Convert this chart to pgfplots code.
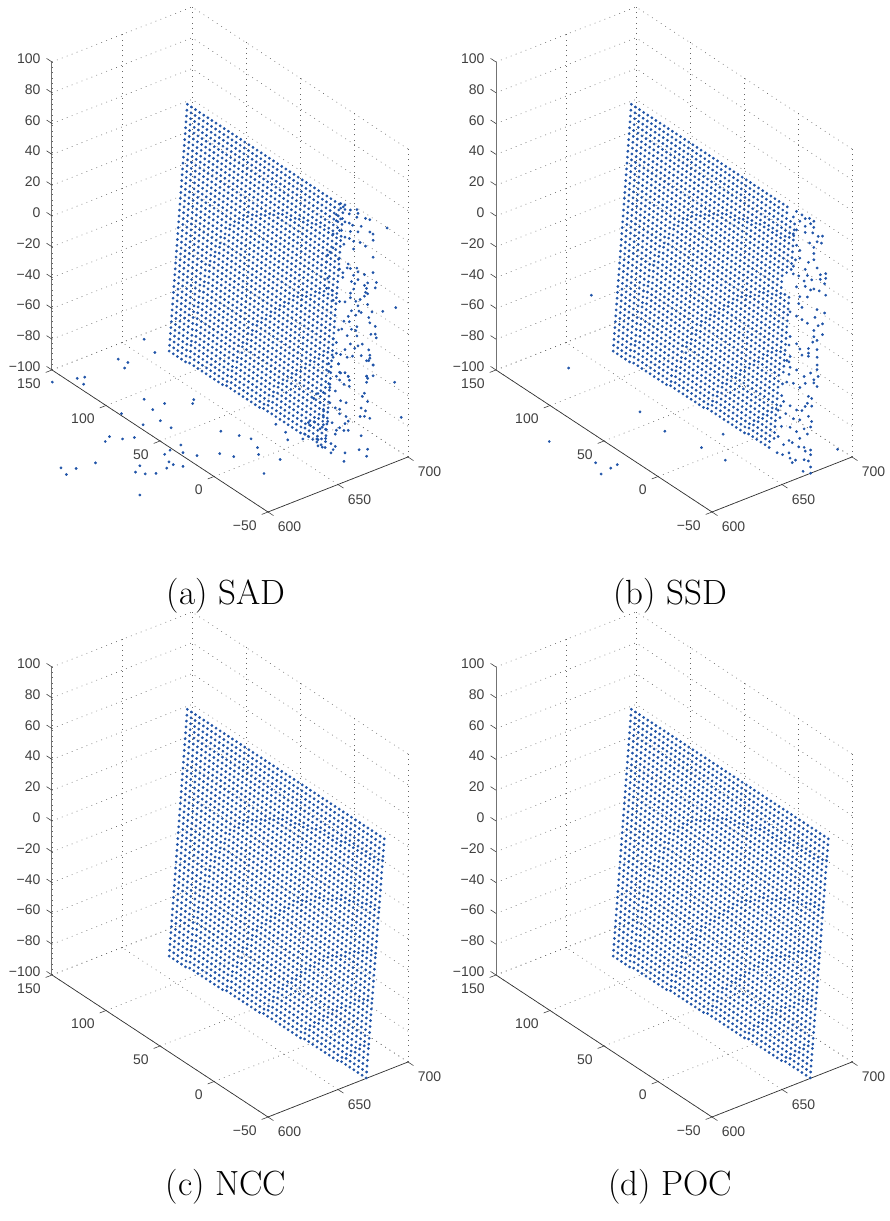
\documentclass[border=0pt]{standalone}
\usepackage{pgfplots}
\usepackage{pgfplotstable}
\pgfplotsset{compat=1.18}
\usepackage{fontspec}
\setmainfont{Liberation Sans}
\newfontfamily\capfont{Latin Modern Roman}
\definecolor{dotblue}{RGB}{32,84,168}
\pgfplotsset{panel/.style={
  x={(1.40pt,0.55pt)},y={(-1.08pt,0.71pt)},z={(0pt,1.54pt)},
  xmin=600,xmax=700,ymin=-50,ymax=150,zmin=-100,zmax=100,
  xtick={600,650,700},ytick={-50,0,50,100,150},ztick={-100,-80,-60,-40,-20,0,20,40,60,80,100},
  xticklabels={600,650,700},yticklabels={−50,0,50,100,150},
  zticklabels={−100,−80,−60,−40,−20,0,20,40,60,80,100},
  clip=false,grid=major,
  grid style={draw=black!60,line width=0.6pt,dash pattern=on 0.8pt off 4.5pt},
  axis line style={draw=none},
  tick align=outside,major tick length=6pt,
  tick style={draw=none},
  tick label style={font=\fontsize{14}{14}\selectfont,text=black!75},
  /pgf/number format/assume math mode=true,
  xticklabel style={anchor=center,xshift=16.5pt,yshift=-11.5pt},
  yticklabel style={anchor=east,xshift=-2.3pt,yshift=-11pt},
  zticklabel style={anchor=east,xshift=-3pt,yshift=0pt},
}}
\tikzset{tk/.style={draw=black!75,line width=0.6pt},dots/.style={only marks,color=dotblue,mark=*,mark size=1.2pt,mark options={draw=dotblue,fill=dotblue,line width=0.4pt}}}
\newcommand{\frameaxes}{%
 \addplot3[no marks,draw=black!80,line width=0.7pt] coordinates {(600,150,-100)(600,-50,-100)(700,-50,-100)};
 \addplot3[no marks,draw=black!55,line width=1pt] coordinates {(600,150,-100)(600,150,100)};
 \draw[tk] (axis cs:600,-50,-100)--(axis cs:600,-55,-100);
 \draw[tk] (axis cs:650,-50,-100)--(axis cs:650,-55,-100);
 \draw[tk] (axis cs:700,-50,-100)--(axis cs:700,-55,-100);
 \draw[tk] (axis cs:600,-50,-100)--(axis cs:595.5,-50,-100);
 \draw[tk] (axis cs:600,0,-100)--(axis cs:595.5,0,-100);
 \draw[tk] (axis cs:600,50,-100)--(axis cs:595.5,50,-100);
 \draw[tk] (axis cs:600,100,-100)--(axis cs:595.5,100,-100);
 \draw[tk] (axis cs:600,150,-100)--(axis cs:595.5,150,-100);
 \draw[tk] (axis cs:600,150,-100)--(axis cs:600,155,-100);
 \draw[tk] (axis cs:600,150,-80)--(axis cs:600,155,-80);
 \draw[tk] (axis cs:600,150,-60)--(axis cs:600,155,-60);
 \draw[tk] (axis cs:600,150,-40)--(axis cs:600,155,-40);
 \draw[tk] (axis cs:600,150,-20)--(axis cs:600,155,-20);
 \draw[tk] (axis cs:600,150,0)--(axis cs:600,155,0);
 \draw[tk] (axis cs:600,150,20)--(axis cs:600,155,20);
 \draw[tk] (axis cs:600,150,40)--(axis cs:600,155,40);
 \draw[tk] (axis cs:600,150,60)--(axis cs:600,155,60);
 \draw[tk] (axis cs:600,150,80)--(axis cs:600,155,80);
 \draw[tk] (axis cs:600,150,100)--(axis cs:600,155,100);
}
\pgfplotstableread{
682 131 52
682 127.2 52
682 123.4 52
682 119.6 52
682 115.8 52
682 112 52
682 108.2 52
682 104.4 52
682 100.6 52
682 96.8 52
682 93 52
682 89.2 52
682 85.4 52
682 81.6 52
682 77.8 52
682 74 52
682 70.2 52
682 66.4 52
682 62.6 52
682 58.8 52
682 55 52
682 51.2 52
682 47.4 52
682 43.6 52
682 39.8 52
682 36 52
682 32.2 52
682 28.4 52
682 24.6 52
682 20.8 52
682 17 52
682 13.2 52
682 9.4 52
682 5.6 52
682 1.8 52
682 -2 52
682 131.4 48
682 127.6 48
682 123.8 48
682 120 48
682 116.2 48
682 112.4 48
682 108.6 48
682 104.8 48
682 101 48
682 97.2 48
682 93.4 48
682 89.6 48
682 85.8 48
682 82 48
682 78.2 48
682 74.4 48
682 70.6 48
682 66.8 48
682 63 48
682 59.2 48
682 55.4 48
682 51.6 48
682 47.8 48
682 44 48
682 40.2 48
682 36.4 48
682 32.6 48
682 28.8 48
682 25 48
682 21.2 48
682 17.4 48
682 13.6 48
682 9.8 48
682 6 48
682 2.2 48
682 -1.6 48
682 131.8 44
682 128 44
682 124.2 44
682 120.4 44
682 116.6 44
682 112.8 44
682 109 44
682 105.2 44
682 101.4 44
682 97.6 44
682 93.8 44
682 90 44
682 86.2 44
682 82.4 44
682 78.6 44
682 74.8 44
682 71 44
682 67.2 44
682 63.4 44
682 59.6 44
682 55.8 44
682 52 44
682 48.2 44
682 44.4 44
682 40.6 44
682 36.8 44
682 33 44
682 29.2 44
682 25.4 44
682 21.6 44
682 17.8 44
682 14 44
682 10.2 44
682 6.4 44
682 2.6 44
682 -1.2 44
682 132.2 40
682 128.4 40
682 124.6 40
682 120.8 40
682 117 40
682 113.2 40
682 109.4 40
682 105.6 40
682 101.8 40
682 98 40
682 94.2 40
682 90.4 40
682 86.6 40
682 82.8 40
682 79 40
682 75.2 40
682 71.4 40
682 67.6 40
682 63.8 40
682 60 40
682 56.2 40
682 52.4 40
682 48.6 40
682 44.8 40
682 41 40
682 37.2 40
682 33.4 40
682 29.6 40
682 25.8 40
682 22 40
682 18.2 40
682 14.4 40
682 10.6 40
682 6.8 40
682 3 40
682 -0.8 40
682 132.6 36
682 128.8 36
682 125 36
682 121.2 36
682 117.4 36
682 113.6 36
682 109.8 36
682 106 36
682 102.2 36
682 98.4 36
682 94.6 36
682 90.8 36
682 87 36
682 83.2 36
682 79.4 36
682 75.6 36
682 71.8 36
682 68 36
682 64.2 36
682 60.4 36
682 56.6 36
682 52.8 36
682 49 36
682 45.2 36
682 41.4 36
682 37.6 36
682 33.8 36
682 30 36
682 26.2 36
682 22.4 36
682 18.6 36
682 14.8 36
682 11 36
682 7.2 36
682 3.4 36
682 -0.4 36
682 133 32
682 129.2 32
682 125.4 32
682 121.6 32
682 117.8 32
682 114 32
682 110.2 32
682 106.4 32
682 102.6 32
682 98.8 32
682 95 32
682 91.2 32
682 87.4 32
682 83.6 32
682 79.8 32
682 76 32
682 72.2 32
682 68.4 32
682 64.6 32
682 60.8 32
682 57 32
682 53.2 32
682 49.4 32
682 45.6 32
682 41.8 32
682 38 32
682 34.2 32
682 30.4 32
682 26.6 32
682 22.8 32
682 19 32
682 15.2 32
682 11.4 32
682 7.6 32
682 3.8 32
682 0 32
682 133.4 28
682 129.6 28
682 125.8 28
682 122 28
682 118.2 28
682 114.4 28
682 110.6 28
682 106.8 28
682 103 28
682 99.2 28
682 95.4 28
682 91.6 28
682 87.8 28
682 84 28
682 80.2 28
682 76.4 28
682 72.6 28
682 68.8 28
682 65 28
682 61.2 28
682 57.4 28
682 53.6 28
682 49.8 28
682 46 28
682 42.2 28
682 38.4 28
682 34.6 28
682 30.8 28
682 27 28
682 23.2 28
682 19.4 28
682 15.6 28
682 11.8 29
682 8 29
682 4.2 29
682 0.4 29
682 133.8 24
682 130 24
682 126.2 24
682 122.4 24
682 118.6 24
682 114.8 24
682 111 24
682 107.2 24
682 103.4 24
682 99.6 24
682 95.8 24
682 92 24
682 88.2 24
682 84.4 24
682 80.6 24
682 76.8 24
682 73 24
682 69.2 24
682 65.4 24
682 61.6 24
682 57.8 24
682 54 24
682 50.2 24
682 46.4 24
682 42.6 24
682 38.8 24
682 35 24
682 31.2 24
682 27.4 25
682 23.6 25
682 19.8 25
682 16 25
682 12.2 25
682 8.4 25
682 4.6 25
682 0.8 25
682 134.2 20
682 130.4 20
682 126.6 20
682 122.8 20
682 119 20
682 115.2 20
682 111.4 20
682 107.6 20
682 103.8 20
682 100 20
682 96.2 20
682 92.4 20
682 88.6 20
682 84.8 20
682 81 20
682 77.2 20
682 73.4 20
682 69.6 20
682 65.8 20
682 62 20
682 58.2 20
682 54.4 20
682 50.6 20
682 46.8 20
682 43 21
682 39.2 21
682 35.4 21
682 31.6 21
682 27.8 21
682 24 21
682 20.2 21
682 16.4 21
682 12.6 21
682 8.8 21
682 5 21
682 1.2 21
682 134.6 16
682 130.8 16
682 127 16
682 123.2 16
682 119.4 16
682 115.6 16
682 111.8 16
682 108 16
682 104.2 16
682 100.4 16
682 96.6 16
682 92.8 16
682 89 16
682 85.2 16
682 81.4 16
682 77.6 16
682 73.8 16
682 70 16
682 66.2 16
682 62.4 16
682 58.6 16
682 54.8 16
682 51 17
682 47.2 17
682 43.4 17
682 39.6 17
682 35.8 17
682 32 17
682 28.2 17
682 24.4 17
682 20.6 17
682 16.8 17
682 13 17
682 9.2 17
682 5.4 17
682 1.6 17
682 135 12
682 131.2 12
682 127.4 12
682 123.6 12
682 119.8 12
682 116 12
682 112.2 12
682 108.4 12
682 104.6 12
682 100.8 12
682 97 12
682 93.2 12
682 89.4 12
682 85.6 12
682 81.8 12
682 78 12
682 74.2 12
682 70.4 12
682 66.6 12
682 62.8 12
682 59 13
682 55.2 13
682 51.4 13
682 47.6 13
682 43.8 13
682 40 13
682 36.2 13
682 32.4 13
682 28.6 13
682 24.8 13
682 21 13
682 17.2 13
682 13.4 13
682 9.6 13
682 5.8 13
682 2 13
682 135.4 8
682 131.6 8
682 127.8 8
682 124 8
682 120.2 8
682 116.4 8
682 112.6 8
682 108.8 8
682 105 8
682 101.2 8
682 97.4 8
682 93.6 8
682 89.8 8
682 86 8
682 82.2 8
682 78.4 8
682 74.6 8
682 70.8 8
682 67 9
682 63.2 9
682 59.4 9
682 55.6 9
682 51.8 9
682 48 9
682 44.2 9
682 40.4 9
682 36.6 9
682 32.8 9
682 29 9
682 25.2 9
682 21.4 9
682 17.6 9
682 13.8 9
682 10 9
682 6.2 9
682 2.4 9
682 135.8 4
682 132 4
682 128.2 4
682 124.4 4
682 120.6 4
682 116.8 4
682 113 4
682 109.2 4
682 105.4 4
682 101.6 4
682 97.8 4
682 94 4
682 90.2 4
682 86.4 4
682 82.6 4
682 78.8 4
682 75 5
682 71.2 5
682 67.4 5
682 63.6 5
682 59.8 5
682 56 5
682 52.2 5
682 48.4 5
682 44.6 5
682 40.8 5
682 37 5
682 33.2 5
682 29.4 5
682 25.6 5
682 21.8 5
682 18 5
682 14.2 5
682 10.4 5
682 6.6 5
682 2.8 5
682 136.2 0
682 132.4 0
682 128.6 0
682 124.8 0
682 121 0
682 117.2 0
682 113.4 0
682 109.6 0
682 105.8 0
682 102 0
682 98.2 0
682 94.4 0
682 90.6 0
682 86.8 0
682 83 0
682 79.2 1
682 75.4 1
682 71.6 1
682 67.8 1
682 64 1
682 60.2 1
682 56.4 1
682 52.6 1
682 48.8 1
682 45 1
682 41.2 1
682 37.4 1
682 33.6 1
682 29.8 1
682 26 1
682 22.2 1
682 18.4 1
682 14.6 1
682 10.8 1
682 7 1
682 3.2 1
682 136.6 -4
682 132.8 -4
682 129 -4
682 125.2 -4
682 121.4 -4
682 117.6 -4
682 113.8 -4
682 110 -4
682 106.2 -4
682 102.4 -4
682 98.6 -4
682 94.8 -4
682 91 -4
682 87.2 -4
682 83.4 -3
682 79.6 -3
682 75.8 -3
682 72 -3
682 68.2 -3
682 64.4 -3
682 60.6 -3
682 56.8 -3
682 53 -3
682 49.2 -3
682 45.4 -3
682 41.6 -3
682 37.8 -3
682 34 -3
682 30.2 -3
682 26.4 -3
682 22.6 -3
682 18.8 -3
682 15 -3
682 11.2 -3
682 7.4 -3
682 3.6 -3
682 137 -8
682 133.2 -8
682 129.4 -8
682 125.6 -8
682 121.8 -8
682 118 -8
682 114.2 -8
682 110.4 -8
682 106.6 -8
682 102.8 -8
682 99 -8
682 95.2 -8
682 91.4 -8
682 87.6 -7
682 83.8 -7
682 80 -7
682 76.2 -7
682 72.4 -7
682 68.6 -7
682 64.8 -7
682 61 -7
682 57.2 -7
682 53.4 -7
682 49.6 -7
682 45.8 -7
682 42 -7
682 38.2 -7
682 34.4 -7
682 30.6 -7
682 26.8 -7
682 23 -7
682 19.2 -7
682 15.4 -7
682 11.6 -7
682 7.8 -7
682 4 -7
682 137.4 -12
682 133.6 -12
682 129.8 -12
682 126 -12
682 122.2 -12
682 118.4 -12
682 114.6 -12
682 110.8 -12
682 107 -12
682 103.2 -12
682 99.4 -12
682 95.6 -12
682 91.8 -11
682 88 -11
682 84.2 -11
682 80.4 -11
682 76.6 -11
682 72.8 -11
682 69 -11
682 65.2 -11
682 61.4 -11
682 57.6 -11
682 53.8 -11
682 50 -11
682 46.2 -11
682 42.4 -11
682 38.6 -11
682 34.8 -11
682 31 -11
682 27.2 -11
682 23.4 -11
682 19.6 -11
682 15.8 -11
682 12 -11
682 8.2 -11
682 4.4 -11
682 137.8 -16
682 134 -16
682 130.2 -16
682 126.4 -16
682 122.6 -16
682 118.8 -16
682 115 -16
682 111.2 -16
682 107.4 -16
682 103.6 -16
682 99.8 -16
682 96 -16
682 92.2 -15
682 88.4 -15
682 84.6 -15
682 80.8 -15
682 77 -15
682 73.2 -15
682 69.4 -15
682 65.6 -15
682 61.8 -15
682 58 -15
682 54.2 -15
682 50.4 -15
682 46.6 -15
682 42.8 -15
682 39 -15
682 35.2 -15
682 31.4 -15
682 27.6 -15
682 23.8 -15
682 20 -15
682 16.2 -15
682 12.4 -15
682 8.6 -14
682 4.8 -14
682 138.2 -20
682 134.4 -20
682 130.6 -20
682 126.8 -20
682 123 -20
682 119.2 -20
682 115.4 -20
682 111.6 -20
682 107.8 -20
682 104 -20
682 100.2 -20
682 96.4 -19
682 92.6 -19
682 88.8 -19
682 85 -19
682 81.2 -19
682 77.4 -19
682 73.6 -19
682 69.8 -19
682 66 -19
682 62.2 -19
682 58.4 -19
682 54.6 -19
682 50.8 -19
682 47 -19
682 43.2 -19
682 39.4 -19
682 35.6 -19
682 31.8 -19
682 28 -19
682 24.2 -19
682 20.4 -19
682 16.6 -19
682 12.8 -18
682 9 -18
682 5.2 -18
682 138.6 -24
682 134.8 -24
682 131 -24
682 127.2 -24
682 123.4 -24
682 119.6 -24
682 115.8 -24
682 112 -24
682 108.2 -24
682 104.4 -24
682 100.6 -24
682 96.8 -23
682 93 -23
682 89.2 -23
682 85.4 -23
682 81.6 -23
682 77.8 -23
682 74 -23
682 70.2 -23
682 66.4 -23
682 62.6 -23
682 58.8 -23
682 55 -23
682 51.2 -23
682 47.4 -23
682 43.6 -23
682 39.8 -23
682 36 -23
682 32.2 -23
682 28.4 -23
682 24.6 -23
682 20.8 -22
682 17 -22
682 13.2 -22
682 9.4 -22
682 5.6 -22
682 139 -28
682 135.2 -28
682 131.4 -28
682 127.6 -28
682 123.8 -28
682 120 -28
682 116.2 -28
682 112.4 -28
682 108.6 -28
682 104.8 -28
682 101 -27
682 97.2 -27
682 93.4 -27
682 89.6 -27
682 85.8 -27
682 82 -27
682 78.2 -27
682 74.4 -27
682 70.6 -27
682 66.8 -27
682 63 -27
682 59.2 -27
682 55.4 -27
682 51.6 -27
682 47.8 -27
682 44 -27
682 40.2 -27
682 36.4 -27
682 32.6 -27
682 28.8 -26
682 25 -26
682 21.2 -26
682 17.4 -26
682 13.6 -26
682 9.8 -26
682 6 -26
682 139.4 -32
682 135.6 -32
682 131.8 -32
682 128 -32
682 124.2 -32
682 120.4 -32
682 116.6 -32
682 112.8 -32
682 109 -32
682 105.2 -32
682 101.4 -31
682 97.6 -31
682 93.8 -31
682 90 -31
682 86.2 -31
682 82.4 -31
682 78.6 -31
682 74.8 -31
682 71 -31
682 67.2 -31
682 63.4 -31
682 59.6 -31
682 55.8 -31
682 52 -31
682 48.2 -31
682 44.4 -31
682 40.6 -31
682 36.8 -31
682 33 -30
682 29.2 -30
682 25.4 -30
682 21.6 -30
682 17.8 -30
682 14 -30
682 10.2 -30
682 6.4 -30
682 139.8 -36
682 136 -36
682 132.2 -36
682 128.4 -36
682 124.6 -36
682 120.8 -36
682 117 -36
682 113.2 -36
682 109.4 -36
682 105.6 -35
682 101.8 -35
682 98 -35
682 94.2 -35
682 90.4 -35
682 86.6 -35
682 82.8 -35
682 79 -35
682 75.2 -35
682 71.4 -35
682 67.6 -35
682 63.8 -35
682 60 -35
682 56.2 -35
682 52.4 -35
682 48.6 -35
682 44.8 -35
682 41 -35
682 37.2 -34
682 33.4 -34
682 29.6 -34
682 25.8 -34
682 22 -34
682 18.2 -34
682 14.4 -34
682 10.6 -34
682 6.8 -34
682 140.2 -40
682 136.4 -40
682 132.6 -40
682 128.8 -40
682 125 -40
682 121.2 -40
682 117.4 -40
682 113.6 -40
682 109.8 -40
682 106 -39
682 102.2 -39
682 98.4 -39
682 94.6 -39
682 90.8 -39
682 87 -39
682 83.2 -39
682 79.4 -39
682 75.6 -39
682 71.8 -39
682 68 -39
682 64.2 -39
682 60.4 -39
682 56.6 -39
682 52.8 -39
682 49 -39
682 45.2 -39
682 41.4 -38
682 37.6 -38
682 33.8 -38
682 30 -38
682 26.2 -38
682 22.4 -38
682 18.6 -38
682 14.8 -38
682 11 -38
682 7.2 -38
682 140.6 -44
682 136.8 -44
682 133 -44
682 129.2 -44
682 125.4 -44
682 121.6 -44
682 117.8 -44
682 114 -44
682 110.2 -43
682 106.4 -43
682 102.6 -43
682 98.8 -43
682 95 -43
682 91.2 -43
682 87.4 -43
682 83.6 -43
682 79.8 -43
682 76 -43
682 72.2 -43
682 68.4 -43
682 64.6 -43
682 60.8 -43
682 57 -43
682 53.2 -43
682 49.4 -43
682 45.6 -42
682 41.8 -42
682 38 -42
682 34.2 -42
682 30.4 -42
682 26.6 -42
682 22.8 -42
682 19 -42
682 15.2 -42
682 11.4 -42
682 7.6 -42
682 141 -48
682 137.2 -48
682 133.4 -48
682 129.6 -48
682 125.8 -48
682 122 -48
682 118.2 -48
682 114.4 -48
682 110.6 -47
682 106.8 -47
682 103 -47
682 99.2 -47
682 95.4 -47
682 91.6 -47
682 87.8 -47
682 84 -47
682 80.2 -47
682 76.4 -47
682 72.6 -47
682 68.8 -47
682 65 -47
682 61.2 -47
682 57.4 -47
682 53.6 -47
682 49.8 -46
682 46 -46
682 42.2 -46
682 38.4 -46
682 34.6 -46
682 30.8 -46
682 27 -46
682 23.2 -46
682 19.4 -46
682 15.6 -46
682 11.8 -46
682 8 -46
682 141.4 -52
682 137.6 -52
682 133.8 -52
682 130 -52
682 126.2 -52
682 122.4 -52
682 118.6 -52
682 114.8 -52
682 111 -51
682 107.2 -51
682 103.4 -51
682 99.6 -51
682 95.8 -51
682 92 -51
682 88.2 -51
682 84.4 -51
682 80.6 -51
682 76.8 -51
682 73 -51
682 69.2 -51
682 65.4 -51
682 61.6 -51
682 57.8 -51
682 54 -50
682 50.2 -50
682 46.4 -50
682 42.6 -50
682 38.8 -50
682 35 -50
682 31.2 -50
682 27.4 -50
682 23.6 -50
682 19.8 -50
682 16 -50
682 12.2 -50
682 8.4 -50
682 141.8 -56
682 138 -56
682 134.2 -56
682 130.4 -56
682 126.6 -56
682 122.8 -56
682 119 -56
682 115.2 -56
682 111.4 -55
682 107.6 -55
682 103.8 -55
682 100 -55
682 96.2 -55
682 92.4 -55
682 88.6 -55
682 84.8 -55
682 81 -55
682 77.2 -55
682 73.4 -55
682 69.6 -55
682 65.8 -55
682 62 -55
682 58.2 -54
682 54.4 -54
682 50.6 -54
682 46.8 -54
682 43 -54
682 39.2 -54
682 35.4 -54
682 31.6 -54
682 27.8 -54
682 24 -54
682 20.2 -54
682 16.4 -54
682 12.6 -54
682 8.8 -54
682 142.2 -60
682 138.4 -60
682 134.6 -60
682 130.8 -60
682 127 -60
682 123.2 -60
682 119.4 -60
682 115.6 -59
682 111.8 -59
682 108 -59
682 104.2 -59
682 100.4 -59
682 96.6 -59
682 92.8 -59
682 89 -59
682 85.2 -59
682 81.4 -59
682 77.6 -59
682 73.8 -59
682 70 -59
682 66.2 -59
682 62.4 -58
682 58.6 -58
682 54.8 -58
682 51 -58
682 47.2 -58
682 43.4 -58
682 39.6 -58
682 35.8 -58
682 32 -58
682 28.2 -58
682 24.4 -58
682 20.6 -58
682 16.8 -58
682 13 -58
682 9.2 -57
682 142.6 -64
682 138.8 -64
682 135 -64
682 131.2 -64
682 127.4 -64
682 123.6 -64
682 119.8 -64
682 116 -63
682 112.2 -63
682 108.4 -63
682 104.6 -63
682 100.8 -63
682 97 -63
682 93.2 -63
682 89.4 -63
682 85.6 -63
682 81.8 -63
682 78 -63
682 74.2 -63
682 70.4 -63
682 66.6 -62
682 62.8 -62
682 59 -62
682 55.2 -62
682 51.4 -62
682 47.6 -62
682 43.8 -62
682 40 -62
682 36.2 -62
682 32.4 -62
682 28.6 -62
682 24.8 -62
682 21 -62
682 17.2 -62
682 13.4 -61
682 9.6 -61
682 143 -68
682 139.2 -68
682 135.4 -68
682 131.6 -68
682 127.8 -68
682 124 -68
682 120.2 -68
682 116.4 -67
682 112.6 -67
682 108.8 -67
682 105 -67
682 101.2 -67
682 97.4 -67
682 93.6 -67
682 89.8 -67
682 86 -67
682 82.2 -67
682 78.4 -67
682 74.6 -67
682 70.8 -67
682 67 -66
682 63.2 -66
682 59.4 -66
682 55.6 -66
682 51.8 -66
682 48 -66
682 44.2 -66
682 40.4 -66
682 36.6 -66
682 32.8 -66
682 29 -66
682 25.2 -66
682 21.4 -66
682 17.6 -65
682 13.8 -65
682 10 -65
682 143.4 -72
682 139.6 -72
682 135.8 -72
682 132 -72
682 128.2 -72
682 124.4 -72
682 120.6 -72
682 116.8 -71
682 113 -71
682 109.2 -71
682 105.4 -71
682 101.6 -71
682 97.8 -71
682 94 -71
682 90.2 -71
682 86.4 -71
682 82.6 -71
682 78.8 -71
682 75 -71
682 71.2 -70
682 67.4 -70
682 63.6 -70
682 59.8 -70
682 56 -70
682 52.2 -70
682 48.4 -70
682 44.6 -70
682 40.8 -70
682 37 -70
682 33.2 -70
682 29.4 -70
682 25.6 -70
682 21.8 -69
682 18 -69
682 14.2 -69
682 10.4 -69
682 143.8 -76
682 140 -76
682 136.2 -76
682 132.4 -76
682 128.6 -76
682 124.8 -76
682 121 -75
682 117.2 -75
682 113.4 -75
682 109.6 -75
682 105.8 -75
682 102 -75
682 98.2 -75
682 94.4 -75
682 90.6 -75
682 86.8 -75
682 83 -75
682 79.2 -75
682 75.4 -75
682 71.6 -74
682 67.8 -74
682 64 -74
682 60.2 -74
682 56.4 -74
682 52.6 -74
682 48.8 -74
682 45 -74
682 41.2 -74
682 37.4 -74
682 33.6 -74
682 29.8 -74
682 26 -73
682 22.2 -73
682 18.4 -73
682 14.6 -73
682 10.8 -73
682 144.2 -80
682 140.4 -80
682 136.6 -80
682 132.8 -80
682 129 -80
682 125.2 -80
682 121.4 -79
682 117.6 -79
682 113.8 -79
682 110 -79
682 106.2 -79
682 102.4 -79
682 98.6 -79
682 94.8 -79
682 91 -79
682 87.2 -79
682 83.4 -79
682 79.6 -79
682 75.8 -78
682 72 -78
682 68.2 -78
682 64.4 -78
682 60.6 -78
682 56.8 -78
682 53 -78
682 49.2 -78
682 45.4 -78
682 41.6 -78
682 37.8 -78
682 34 -78
682 30.2 -77
682 26.4 -77
682 22.6 -77
682 18.8 -77
682 15 -77
682 11.2 -77
682 144.6 -84
682 140.8 -84
682 137 -84
682 133.2 -84
682 129.4 -84
682 125.6 -84
682 121.8 -83
682 118 -83
682 114.2 -83
682 110.4 -83
682 106.6 -83
682 102.8 -83
682 99 -83
682 95.2 -83
682 91.4 -83
682 87.6 -83
682 83.8 -83
682 80 -82
682 76.2 -82
682 72.4 -82
682 68.6 -82
682 64.8 -82
682 61 -82
682 57.2 -82
682 53.4 -82
682 49.6 -82
682 45.8 -82
682 42 -82
682 38.2 -82
682 34.4 -81
682 30.6 -81
682 26.8 -81
682 23 -81
682 19.2 -81
682 15.4 -81
682 11.6 -81
682 145 -88
682 141.2 -88
682 137.4 -88
682 133.6 -88
682 129.8 -88
682 126 -88
682 122.2 -87
682 118.4 -87
682 114.6 -87
682 110.8 -87
682 107 -87
682 103.2 -87
682 99.4 -87
682 95.6 -87
682 91.8 -87
682 88 -87
682 84.2 -87
682 80.4 -86
682 76.6 -86
682 72.8 -86
682 69 -86
682 65.2 -86
682 61.4 -86
682 57.6 -86
682 53.8 -86
682 50 -86
682 46.2 -86
682 42.4 -86
682 38.6 -85
682 34.8 -85
682 31 -85
682 27.2 -85
682 23.4 -85
682 19.6 -85
682 15.8 -85
682 12 -85
682 145.4 -92
682 141.6 -92
682 137.8 -92
682 134 -92
682 130.2 -92
682 126.4 -92
682 122.6 -91
682 118.8 -91
682 115 -91
682 111.2 -91
682 107.4 -91
682 103.6 -91
682 99.8 -91
682 96 -91
682 92.2 -91
682 88.4 -91
682 84.6 -91
682 80.8 -90
682 77 -90
682 73.2 -90
682 69.4 -90
682 65.6 -90
682 61.8 -90
682 58 -90
682 54.2 -90
682 50.4 -90
682 46.6 -90
682 42.8 -89
682 39 -89
682 35.2 -89
682 31.4 -89
682 27.6 -89
682 23.8 -89
682 20 -89
682 16.2 -89
682 12.4 -89
682 145.8 -96
682 142 -96
682 138.2 -96
682 134.4 -96
682 130.6 -96
682 126.8 -96
682 123 -95
682 119.2 -95
682 115.4 -95
682 111.6 -95
682 107.8 -95
682 104 -95
682 100.2 -95
682 96.4 -95
682 92.6 -95
682 88.8 -95
682 85 -94
682 81.2 -94
682 77.4 -94
682 73.6 -94
682 69.8 -94
682 66 -94
682 62.2 -94
682 58.4 -94
682 54.6 -94
682 50.8 -94
682 47 -93
682 43.2 -93
682 39.4 -93
682 35.6 -93
682 31.8 -93
682 28 -93
682 24.2 -93
682 20.4 -93
682 16.6 -93
682 12.8 -93
682 146.2 -100
682 142.4 -100
682 138.6 -100
682 134.8 -100
682 131 -100
682 127.2 -100
682 123.4 -99
682 119.6 -99
682 115.8 -99
682 112 -99
682 108.2 -99
682 104.4 -99
682 100.6 -99
682 96.8 -99
682 93 -99
682 89.2 -99
682 85.4 -98
682 81.6 -98
682 77.8 -98
682 74 -98
682 70.2 -98
682 66.4 -98
682 62.6 -98
682 58.8 -98
682 55 -98
682 51.2 -98
682 47.4 -97
682 43.6 -97
682 39.8 -97
682 36 -97
682 32.2 -97
682 28.4 -97
682 24.6 -97
682 20.8 -97
682 17 -97
682 13.2 -97
682 146.6 -104
682 142.8 -104
682 139 -104
682 135.2 -104
682 131.4 -104
682 127.6 -103
682 123.8 -103
682 120 -103
682 116.2 -103
682 112.4 -103
682 108.6 -103
682 104.8 -103
682 101 -103
682 97.2 -103
682 93.4 -103
682 89.6 -102
682 85.8 -102
682 82 -102
682 78.2 -102
682 74.4 -102
682 70.6 -102
682 66.8 -102
682 63 -102
682 59.2 -102
682 55.4 -102
682 51.6 -101
682 47.8 -101
682 44 -101
682 40.2 -101
682 36.4 -101
682 32.6 -101
682 28.8 -101
682 25 -101
682 21.2 -101
682 17.4 -101
682 13.6 -100
682 147 -108
682 143.2 -108
682 139.4 -108
682 135.6 -108
682 131.8 -108
682 128 -107
682 124.2 -107
682 120.4 -107
682 116.6 -107
682 112.8 -107
682 109 -107
682 105.2 -107
682 101.4 -107
682 97.6 -107
682 93.8 -107
682 90 -106
682 86.2 -106
682 82.4 -106
682 78.6 -106
682 74.8 -106
682 71 -106
682 67.2 -106
682 63.4 -106
682 59.6 -106
682 55.8 -106
682 52 -105
682 48.2 -105
682 44.4 -105
682 40.6 -105
682 36.8 -105
682 33 -105
682 29.2 -105
682 25.4 -105
682 21.6 -105
682 17.8 -104
682 14 -104
682 147.4 -112
682 143.6 -112
682 139.8 -112
682 136 -112
682 132.2 -112
682 128.4 -111
682 124.6 -111
682 120.8 -111
682 117 -111
682 113.2 -111
682 109.4 -111
682 105.6 -111
682 101.8 -111
682 98 -111
682 94.2 -111
682 90.4 -110
682 86.6 -110
682 82.8 -110
682 79 -110
682 75.2 -110
682 71.4 -110
682 67.6 -110
682 63.8 -110
682 60 -110
682 56.2 -109
682 52.4 -109
682 48.6 -109
682 44.8 -109
682 41 -109
682 37.2 -109
682 33.4 -109
682 29.6 -109
682 25.8 -109
682 22 -108
682 18.2 -108
682 14.4 -108
682 147.8 -116
682 144 -116
682 140.2 -116
682 136.4 -116
682 132.6 -116
682 128.8 -115
682 125 -115
682 121.2 -115
682 117.4 -115
682 113.6 -115
682 109.8 -115
682 106 -115
682 102.2 -115
682 98.4 -115
682 94.6 -114
682 90.8 -114
682 87 -114
682 83.2 -114
682 79.4 -114
682 75.6 -114
682 71.8 -114
682 68 -114
682 64.2 -114
682 60.4 -113
682 56.6 -113
682 52.8 -113
682 49 -113
682 45.2 -113
682 41.4 -113
682 37.6 -113
682 33.8 -113
682 30 -113
682 26.2 -113
682 22.4 -112
682 18.6 -112
682 14.8 -112
}\tabL
\pgfplotstableread{
682 -5.8 52
682 -9.6 52
682 -13.4 52
682 -5.4 48
682 -9.2 48
682 -13 48
682 -5 44
682 -8.8 44
682 -12.6 44
682 -4.6 40
682 -8.4 40
682 -12.2 40
682 -4.2 36
682 -8 36
682 -11.8 36
682 -3.8 32
682 -7.6 32
682 -11.4 32
682 -3.4 29
682 -7.2 29
682 -11 29
682 -3 25
682 -6.8 25
682 -10.6 25
682 -2.6 21
682 -6.4 21
682 -10.2 21
682 -2.2 17
682 -6 17
682 -9.8 17
682 -1.8 13
682 -5.6 13
682 -9.4 13
682 -1.4 9
682 -5.2 9
682 -9 9
682 -1 5
682 -4.8 5
682 -8.6 5
682 -0.6 1
682 -4.4 1
682 -8.2 1
682 -0.2 -3
682 -4 -3
682 -7.8 -3
682 0.2 -7
682 -3.6 -7
682 -7.4 -7
682 0.6 -11
682 -3.2 -10
682 -7 -10
682 1 -14
682 -2.8 -14
682 -6.6 -14
682 1.4 -18
682 -2.4 -18
682 -6.2 -18
682 1.8 -22
682 -2 -22
682 -5.8 -22
682 2.2 -26
682 -1.6 -26
682 -5.4 -26
682 2.6 -30
682 -1.2 -30
682 -5 -30
682 3 -34
682 -0.8 -34
682 -4.6 -34
682 3.4 -38
682 -0.4 -38
682 -4.2 -38
682 3.8 -42
682 0 -42
682 -3.8 -42
682 4.2 -46
682 0.4 -46
682 -3.4 -46
682 4.6 -50
682 0.8 -49
682 -3 -49
682 5 -53
682 1.2 -53
682 -2.6 -53
682 5.4 -57
682 1.6 -57
682 -2.2 -57
682 5.8 -61
682 2 -61
682 -1.8 -61
682 6.2 -65
682 2.4 -65
682 -1.4 -65
682 6.6 -69
682 2.8 -69
682 -1 -69
682 7 -73
682 3.2 -73
682 -0.6 -73
682 7.4 -77
682 3.6 -77
682 -0.2 -77
682 7.8 -81
682 4 -81
682 0.2 -81
682 8.2 -85
682 4.4 -85
682 0.6 -85
682 8.6 -89
682 4.8 -89
682 1 -88
682 9 -93
682 5.2 -92
682 1.4 -92
682 9.4 -96
682 5.6 -96
682 1.8 -96
682 9.8 -100
682 6 -100
682 2.2 -100
682 10.2 -104
682 6.4 -104
682 2.6 -104
682 10.6 -108
682 6.8 -108
682 3 -108
682 11 -112
682 7.2 -112
682 3.4 -112
}\tabM
\pgfplotstableread{
682 -17.2 52
682 -21 52
682 -24.8 52
682 -28.6 52
682 -32.4 52
682 -36.2 52
682 -40 52
682 -43.8 52
682 -47.6 52
682 -51.4 52
682 -16.8 48
682 -20.6 48
682 -24.4 48
682 -28.2 48
682 -32 48
682 -35.8 48
682 -39.6 48
682 -43.4 48
682 -47.2 48
682 -51 48
682 -16.4 44
682 -20.2 44
682 -24 44
682 -27.8 44
682 -31.6 44
682 -35.4 44
682 -39.2 44
682 -43 44
682 -46.8 44
682 -50.6 44
682 -16 40
682 -19.8 40
682 -23.6 40
682 -27.4 40
682 -31.2 40
682 -35 40
682 -38.8 40
682 -42.6 40
682 -46.4 40
682 -50.2 40
682 -15.6 36
682 -19.4 36
682 -23.2 36
682 -27 36
682 -30.8 36
682 -34.6 36
682 -38.4 36
682 -42.2 36
682 -46 36
682 -49.8 37
682 -15.2 33
682 -19 33
682 -22.8 33
682 -26.6 33
682 -30.4 33
682 -34.2 33
682 -38 33
682 -41.8 33
682 -45.6 33
682 -49.4 33
682 -14.8 29
682 -18.6 29
682 -22.4 29
682 -26.2 29
682 -30 29
682 -33.8 29
682 -37.6 29
682 -41.4 29
682 -45.2 29
682 -49 29
682 -14.4 25
682 -18.2 25
682 -22 25
682 -25.8 25
682 -29.6 25
682 -33.4 25
682 -37.2 25
682 -41 25
682 -44.8 25
682 -48.6 25
682 -14 21
682 -17.8 21
682 -21.6 21
682 -25.4 21
682 -29.2 21
682 -33 21
682 -36.8 21
682 -40.6 21
682 -44.4 21
682 -48.2 21
682 -13.6 17
682 -17.4 17
682 -21.2 17
682 -25 17
682 -28.8 17
682 -32.6 17
682 -36.4 17
682 -40.2 17
682 -44 17
682 -47.8 17
682 -13.2 13
682 -17 13
682 -20.8 13
682 -24.6 13
682 -28.4 13
682 -32.2 13
682 -36 13
682 -39.8 13
682 -43.6 13
682 -47.4 13
682 -12.8 9
682 -16.6 9
682 -20.4 9
682 -24.2 9
682 -28 9
682 -31.8 9
682 -35.6 9
682 -39.4 9
682 -43.2 9
682 -47 9
682 -12.4 5
682 -16.2 5
682 -20 5
682 -23.8 5
682 -27.6 5
682 -31.4 5
682 -35.2 5
682 -39 5
682 -42.8 5
682 -46.6 5
682 -12 1
682 -15.8 1
682 -19.6 1
682 -23.4 1
682 -27.2 1
682 -31 1
682 -34.8 2
682 -38.6 2
682 -42.4 2
682 -46.2 2
682 -11.6 -3
682 -15.4 -3
682 -19.2 -3
682 -23 -2
682 -26.8 -2
682 -30.6 -2
682 -34.4 -2
682 -38.2 -2
682 -42 -2
682 -45.8 -2
682 -11.2 -6
682 -15 -6
682 -18.8 -6
682 -22.6 -6
682 -26.4 -6
682 -30.2 -6
682 -34 -6
682 -37.8 -6
682 -41.6 -6
682 -45.4 -6
682 -10.8 -10
682 -14.6 -10
682 -18.4 -10
682 -22.2 -10
682 -26 -10
682 -29.8 -10
682 -33.6 -10
682 -37.4 -10
682 -41.2 -10
682 -45 -10
682 -10.4 -14
682 -14.2 -14
682 -18 -14
682 -21.8 -14
682 -25.6 -14
682 -29.4 -14
682 -33.2 -14
682 -37 -14
682 -40.8 -14
682 -44.6 -14
682 -10 -18
682 -13.8 -18
682 -17.6 -18
682 -21.4 -18
682 -25.2 -18
682 -29 -18
682 -32.8 -18
682 -36.6 -18
682 -40.4 -18
682 -44.2 -18
682 -9.6 -22
682 -13.4 -22
682 -17.2 -22
682 -21 -22
682 -24.8 -22
682 -28.6 -22
682 -32.4 -22
682 -36.2 -22
682 -40 -22
682 -43.8 -22
682 -9.2 -26
682 -13 -26
682 -16.8 -26
682 -20.6 -26
682 -24.4 -26
682 -28.2 -26
682 -32 -26
682 -35.8 -26
682 -39.6 -26
682 -43.4 -26
682 -8.8 -30
682 -12.6 -30
682 -16.4 -30
682 -20.2 -30
682 -24 -30
682 -27.8 -30
682 -31.6 -30
682 -35.4 -29
682 -39.2 -29
682 -43 -29
682 -8.4 -34
682 -12.2 -34
682 -16 -34
682 -19.8 -34
682 -23.6 -34
682 -27.4 -33
682 -31.2 -33
682 -35 -33
682 -38.8 -33
682 -42.6 -33
682 -8 -38
682 -11.8 -38
682 -15.6 -38
682 -19.4 -37
682 -23.2 -37
682 -27 -37
682 -30.8 -37
682 -34.6 -37
682 -38.4 -37
682 -42.2 -37
682 -7.6 -42
682 -11.4 -42
682 -15.2 -41
682 -19 -41
682 -22.8 -41
682 -26.6 -41
682 -30.4 -41
682 -34.2 -41
682 -38 -41
682 -41.8 -41
682 -7.2 -45
682 -11 -45
682 -14.8 -45
682 -18.6 -45
682 -22.4 -45
682 -26.2 -45
682 -30 -45
682 -33.8 -45
682 -37.6 -45
682 -41.4 -45
682 -6.8 -49
682 -10.6 -49
682 -14.4 -49
682 -18.2 -49
682 -22 -49
682 -25.8 -49
682 -29.6 -49
682 -33.4 -49
682 -37.2 -49
682 -41 -49
682 -6.4 -53
682 -10.2 -53
682 -14 -53
682 -17.8 -53
682 -21.6 -53
682 -25.4 -53
682 -29.2 -53
682 -33 -53
682 -36.8 -53
682 -40.6 -53
682 -6 -57
682 -9.8 -57
682 -13.6 -57
682 -17.4 -57
682 -21.2 -57
682 -25 -57
682 -28.8 -57
682 -32.6 -57
682 -36.4 -57
682 -40.2 -57
682 -5.6 -61
682 -9.4 -61
682 -13.2 -61
682 -17 -61
682 -20.8 -61
682 -24.6 -61
682 -28.4 -61
682 -32.2 -61
682 -36 -60
682 -39.8 -60
682 -5.2 -65
682 -9 -65
682 -12.8 -65
682 -16.6 -65
682 -20.4 -65
682 -24.2 -65
682 -28 -64
682 -31.8 -64
682 -35.6 -64
682 -39.4 -64
682 -4.8 -69
682 -8.6 -69
682 -12.4 -69
682 -16.2 -69
682 -20 -69
682 -23.8 -68
682 -27.6 -68
682 -31.4 -68
682 -35.2 -68
682 -39 -68
682 -4.4 -73
682 -8.2 -73
682 -12 -73
682 -15.8 -73
682 -19.6 -72
682 -23.4 -72
682 -27.2 -72
682 -31 -72
682 -34.8 -72
682 -38.6 -72
682 -4 -77
682 -7.8 -77
682 -11.6 -76
682 -15.4 -76
682 -19.2 -76
682 -23 -76
682 -26.8 -76
682 -30.6 -76
682 -34.4 -76
682 -38.2 -76
682 -3.6 -81
682 -7.4 -80
682 -11.2 -80
682 -15 -80
682 -18.8 -80
682 -22.6 -80
682 -26.4 -80
682 -30.2 -80
682 -34 -80
682 -37.8 -80
682 -3.2 -84
682 -7 -84
682 -10.8 -84
682 -14.6 -84
682 -18.4 -84
682 -22.2 -84
682 -26 -84
682 -29.8 -84
682 -33.6 -84
682 -37.4 -84
682 -2.8 -88
682 -6.6 -88
682 -10.4 -88
682 -14.2 -88
682 -18 -88
682 -21.8 -88
682 -25.6 -88
682 -29.4 -88
682 -33.2 -88
682 -37 -88
682 -2.4 -92
682 -6.2 -92
682 -10 -92
682 -13.8 -92
682 -17.6 -92
682 -21.4 -92
682 -25.2 -92
682 -29 -92
682 -32.8 -91
682 -36.6 -91
682 -2 -96
682 -5.8 -96
682 -9.6 -96
682 -13.4 -96
682 -17.2 -96
682 -21 -96
682 -24.8 -96
682 -28.6 -95
682 -32.4 -95
682 -36.2 -95
682 -1.6 -100
682 -5.4 -100
682 -9.2 -100
682 -13 -100
682 -16.8 -100
682 -20.6 -100
682 -24.4 -99
682 -28.2 -99
682 -32 -99
682 -35.8 -99
682 -1.2 -104
682 -5 -104
682 -8.8 -104
682 -12.6 -104
682 -16.4 -104
682 -20.2 -103
682 -24 -103
682 -27.8 -103
682 -31.6 -103
682 -35.4 -103
682 -0.8 -108
682 -4.6 -108
682 -8.4 -108
682 -12.2 -108
682 -16 -107
682 -19.8 -107
682 -23.6 -107
682 -27.4 -107
682 -31.2 -107
682 -35 -107
682 -0.4 -112
682 -4.2 -112
682 -8 -112
682 -11.8 -111
682 -15.6 -111
682 -19.4 -111
682 -23.2 -111
682 -27 -111
682 -30.8 -111
682 -34.6 -111
}\tabR
\pgfplotstableread{
682 171 -119
682 161 -123
682 195 -143
682 186 -141
682 189 -146
682 233 -173
682 226 -169
682 227 -174
682 256 -186
682 171 -158
682 152 -152
682 125 -137
682 126 -140
682 163 -161
682 192 -177
682 172 -175
682 156 -165
682 146 -165
682 100 -146
682 83 -141
682 72 -138
682 49 -118
682 40 -119
682 38 -123
682 137 -172
682 147 -180
682 135 -176
682 152 -185
682 122 -172
682 101 -161
682 88 -157
682 66 -141
682 65 -145
682 45 -139
682 203 -197
682 207 -202
682 191 -193
682 180 -187
682 216 -220
682 248 -238
682 243 -240
682 234 -232
682 148 -188
682 144 -188
682 150 -193
682 135 -185
682 175 -203
682 179 -209
682 170 -206
682 160 -201
682 175 -222
682 60 -155
682 -11 53
682 -15 54
682 -11 50
682 -15 51
682 -20 53
682 -26 56
682 -27 54
682 -19 50
682 -26 51
682 -34 54
682 -38 55
682 -54 57
682 -7 44
682 -11 43
682 -7 40
682 -15 43
682 -19 44
682 -22 44
682 -30 47
682 -27 42
682 -38 47
682 -41 47
682 -41 43
682 -34 36
682 -29 36
682 -23 34
682 -23 29
682 -19 34
682 -15 33
682 -14 28
682 -7 25
682 -4 30
682 -10 35
682 -20 39
682 -4 21
682 -1 17
682 2 9
682 1 14
682 -9 16
682 -18 17
682 -10 10
682 -17 14
682 -20 15
682 -26 18
682 -27 16
682 -33 17
682 -41 22
682 -41 32
682 -13 9
682 -23 12
682 -13 6
682 1 -1
682 -21 7
682 -27 11
682 -36 13
682 -44 17
682 -33 10
682 -24 7
682 -23 3
682 -35 9
682 -43 13
682 2 -8
682 -3 -7
682 -20 -1
682 -34 6
682 -36 6
682 -20 -4
682 -29 -1
682 -33 3
682 -25 -4
682 -15 -9
682 -10 -11
682 -4 -13
682 -36 -1
682 -27 -6
682 -28 -9
682 -30 -9
682 -25 -13
682 -21 -12
682 -18 -17
682 -37 -9
682 -50 1
682 -62 9
682 -40 -4
682 -14 -22
682 -19 -20
682 -38 -12
682 -43 -12
682 -43 -17
682 -39 -19
682 -26 -20
682 -25 -23
682 -21 -24
682 -17 -30
682 -12 -28
682 -9 -30
682 -4 -38
682 -7 -39
682 -20 -34
682 -26 -26
682 -44 -19
682 -31 -29
682 -27 -32
682 -37 -30
682 -24 -35
682 -15 -40
682 -11 -45
682 -7 -46
682 -17 -44
682 -22 -41
682 -30 -37
682 -38 -33
682 -38 -35
682 -35 -38
682 -41 -38
682 -9 -52
682 -11 -57
682 -15 -55
682 -18 -56
682 -35 -48
682 -36 -49
682 0 -56
682 -4 -50
682 0 -61
682 -9 -52
682 -37 -37
682 -41 -38
682 -35 -48
682 -41 -45
682 -35 -52
682 -61 -40
682 -10 -57
682 -15 -55
682 -18 -56
682 -19 -58
682 -19 -62
682 -14 -63
682 -10 -62
682 -7 -61
682 0 -69
682 -1 -71
682 -6 -71
682 -33 -60
682 -31 -63
682 -36 -64
682 -30 -71
682 -34 -71
682 -29 -77
682 -33 -75
682 -38 -74
682 -67 -60
682 -11 -75
682 -16 -74
682 5 -77
682 10 -80
682 14 -85
682 8 -85
682 -1 -81
682 -6 -82
682 -10 -81
682 5 -88
682 5 -93
682 -16 -83
682 -18 -85
682 -15 -88
682 -10 -84
682 -3 -93
682 1 -94
682 5 -98
682 3 -100
682 -10 -93
682 -14 -93
682 -18 -91
682 -7 -96
682 -6 -99
682 3 -106
682 11 -110
682 10 -110
682 10 -114
682 6 -113
682 -2 -107
682 -6 -107
682 -4 -110
682 -2 -113
682 -15 -107
682 -28 -99
682 -36 -95
682 -35 -100
682 -14 -113
682 -30 -89
682 19 -112
682 22 -112
682 24 -116
682 8 -102
682 13 -100
682 19 -103
682 17 -104
}\tabA
\pgfplotstableread{
682 168 -89
682 189 -146
682 123 -144
682 100 -146
682 46 -123
682 66 -141
682 44 -139
682 207 -202
682 164 -196
682 144 -188
682 150 -193
682 159 -201
682 -22 53
682 -27 53
682 -34 54
682 -38 54
682 -35 51
682 -30 47
682 -38 50
682 -30 43
682 -37 46
682 -42 46
682 -46 48
682 -41 42
682 -45 43
682 -34 38
682 -38 37
682 -38 33
682 -38 29
682 -33 25
682 -41 25
682 -49 25
682 -44 22
682 -49 22
682 -48 18
682 -44 19
682 -49 11
682 -43 11
682 -38 10
682 -30 19
682 -25 24
682 -21 21
682 -25 29
682 -22 31
682 -19 37
682 -22 41
682 -19 48
682 -25 48
682 -30 52
682 -19 16
682 -19 11
682 -24 12
682 -32 16
682 -36 15
682 -29 11
682 -22 4
682 -30 8
682 -35 8
682 -25 -1
682 -24 -6
682 -27 -7
682 -32 2
682 -41 -2
682 -48 -1
682 -46 -9
682 -39 -8
682 -42 -12
682 -38 -17
682 -46 -16
682 -38 -21
682 -37 -25
682 -41 -22
682 -32 -15
682 -27 -15
682 -22 -15
682 -16 -15
682 -33 -31
682 -33 -34
682 -41 -28
682 -41 -33
682 -41 -38
682 -41 -41
682 -42 -45
682 -38 -51
682 -41 -52
682 -33 -36
682 -27 -38
682 -25 -35
682 -22 -33
682 -16 -31
682 -15 -37
682 -16 -44
682 -15 -48
682 -16 -51
682 -13 -48
682 -15 -56
682 -22 -50
682 -29 -51
682 -35 -46
682 -38 -49
682 -30 -55
682 -25 -60
682 -19 -60
682 -13 -62
682 -33 -62
682 -36 -62
682 -32 -67
682 -36 -67
682 -30 -70
682 -33 -75
682 -36 -77
682 -27 -74
682 -22 -76
682 -16 -76
682 -10 -76
682 -5 -84
682 -12 -83
682 -19 -83
682 -25 -81
682 -29 -85
682 -35 -81
682 -32 -87
682 -22 -90
682 -16 -90
682 -8 -93
682 -5 -101
682 -15 -99
682 -25 -93
682 -29 -97
682 -35 -96
682 -30 -99
682 -24 -99
682 -18 -99
682 -10 -104
682 -4 -112
682 -9 -111
682 -15 -107
682 -16 -110
682 -18 -112
682 -21 -109
682 -29 -105
682 -35 -99
682 -33 -104
682 -35 -107
682 -28 -113
682 -35 -111
682 -60 -84
682 -16.4 44
682 -20.2 44
682 -16 40
682 -19.8 40
682 -15.6 36
682 -19.4 36
682 -15.2 33
682 -19 33
682 -14.8 29
682 -18.6 29
682 -14.4 25
682 -18.2 25
682 -14 21
682 -17.8 21
682 -13.6 17
682 -17.4 17
682 -13.2 13
682 -17 13
682 -12.8 9
682 -11.2 -6
682 -15 -6
682 -10.8 -10
682 -14.6 -10
682 -10.4 -14
682 -14.2 -14
682 -10 -18
682 -13.8 -18
682 -9.6 -22
682 -13.4 -22
682 -9.2 -26
682 -13 -26
682 -8.8 -30
682 -12.6 -30
682 -8.4 -34
682 -12.2 -34
682 -8 -38
682 -11.8 -38
682 -7.6 -42
682 -11.4 -42
682 -7.2 -45
682 -11 -45
682 -6.8 -49
682 -10.6 -49
682 -6.4 -53
682 -10.2 -53
682 -6 -57
682 -9.8 -57
682 -5.6 -61
682 -5.2 -65
682 -9 -65
682 -4.8 -69
682 -4.4 -73
682 -8.2 -73
682 -4 -77
682 -3.6 -81
682 -7.4 -80
682 -3.2 -84
682 -2.8 -88
682 -6.6 -88
682 -2.4 -92
682 -2 -96
682 -1.6 -100
682 -1.2 -104
}\tabB
\begin{document}
\begin{tikzpicture}
\path[use as bounding box] (0,0) rectangle (889pt,1221pt);
\begin{axis}[panel,at={(52pt,709pt)},anchor=south west]
\frameaxes
\addplot3[dots] table {\tabL};
\addplot3[dots] table {\tabM};
\addplot3[dots] table {\tabA};
\end{axis}
\begin{axis}[panel,at={(496pt,709pt)},anchor=south west]
\frameaxes
\addplot3[dots] table {\tabL};
\addplot3[dots] table {\tabM};
\addplot3[dots] table {\tabB};
\end{axis}
\begin{axis}[panel,at={(52pt,104pt)},anchor=south west]
\frameaxes
\addplot3[dots] table {\tabL};
\addplot3[dots] table {\tabM};
\addplot3[dots] table {\tabR};
\end{axis}
\begin{axis}[panel,at={(496pt,104pt)},anchor=south west]
\frameaxes
\addplot3[dots] table {\tabL};
\addplot3[dots] table {\tabM};
\addplot3[dots] table {\tabR};
\end{axis}
\node[font=\capfont\fontsize{35}{35}\selectfont,anchor=base] at (226pt,616pt) {(a) SAD};
\node[font=\capfont\fontsize{35}{35}\selectfont,anchor=base] at (670pt,616pt) {(b) SSD};
\node[font=\capfont\fontsize{35}{35}\selectfont,anchor=base] at (226pt,25pt) {(c) NCC};
\node[font=\capfont\fontsize{35}{35}\selectfont,anchor=base] at (670pt,25pt) {(d) POC};
\end{tikzpicture}
\end{document}
